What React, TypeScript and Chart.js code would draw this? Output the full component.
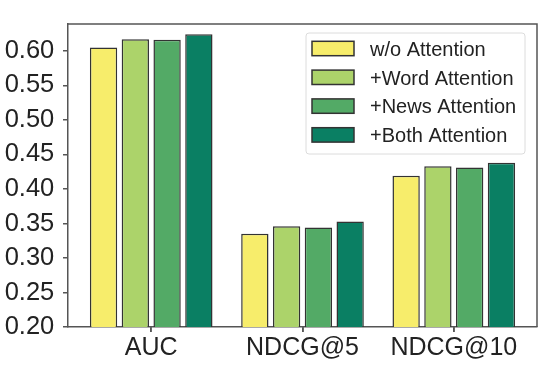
import React, { useEffect, useRef } from "react";
import { Chart, registerables } from "chart.js";

Chart.register(...registerables);

const categories = ["AUC", "NDCG@5", "NDCG@10"];
const seriesLabels = ["w/o Attention", "+Word Attention", "+News Attention", "+Both Attention"];
const woAttention = [0.605, 0.335, 0.419];
const wordAttention = [0.617, 0.346, 0.433];
const newsAttention = [0.616, 0.344, 0.431];
const bothAttention = [0.624, 0.353, 0.438];
const seriesColors = ["#f7ed6b", "#acd36a", "#53aa66", "#0a7f63"];
const yTicks = [0.2, 0.25, 0.3, 0.35, 0.4, 0.45, 0.5, 0.55, 0.6];

const FONT = "'Liberation Sans', Arial, sans-serif";
const AXIS = "#555555";
const TEXT = "#222222";

const legendPlugin = {
  id: "insideLegend",
  afterDraw(chart: any) {
    const ctx = chart.ctx;
    const area = chart.chartArea;
    ctx.save();
    // top & right spines
    ctx.strokeStyle = AXIS;
    ctx.lineWidth = 1.5;
    ctx.beginPath();
    ctx.moveTo(area.left, area.top);
    ctx.lineTo(area.right, area.top);
    ctx.lineTo(area.right, area.bottom);
    ctx.stroke();

    // x tick marks at category centres
    const xs = chart.scales.x;
    ctx.strokeStyle = AXIS;
    ctx.lineWidth = 1.5;
    ctx.beginPath();
    for (let i = 0; i < categories.length; i++) {
      const px = Math.round(xs.getPixelForValue(i));
      ctx.moveTo(px, area.bottom);
      ctx.lineTo(px, area.bottom + 5);
    }
    ctx.stroke();

    // legend frame
    const fx = 306, fy = 33, fw = 219, fh = 121, r = 3;
    ctx.beginPath();
    ctx.moveTo(fx + r, fy);
    ctx.lineTo(fx + fw - r, fy);
    ctx.quadraticCurveTo(fx + fw, fy, fx + fw, fy + r);
    ctx.lineTo(fx + fw, fy + fh - r);
    ctx.quadraticCurveTo(fx + fw, fy + fh, fx + fw - r, fy + fh);
    ctx.lineTo(fx + r, fy + fh);
    ctx.quadraticCurveTo(fx, fy + fh, fx, fy + fh - r);
    ctx.lineTo(fx, fy + r);
    ctx.quadraticCurveTo(fx, fy, fx + r, fy);
    ctx.closePath();
    ctx.fillStyle = "rgba(255,255,255,0.8)";
    ctx.fill();
    ctx.strokeStyle = "#dcdcdc";
    ctx.lineWidth = 1;
    ctx.stroke();

    ctx.font = `20px ${FONT}`;
    ctx.textBaseline = "alphabetic";
    ctx.textAlign = "left";
    chart.data.datasets.forEach((ds: any, i: number) => {
      const cy = 48.5 + i * 28.8;
      ctx.fillStyle = ds.backgroundColor;
      ctx.fillRect(312, cy - 7.2, 42, 14.4);
      ctx.strokeStyle = "#333333";
      ctx.lineWidth = 1.5;
      ctx.strokeRect(312, cy - 7.2, 42, 14.4);
      ctx.fillStyle = TEXT;
      ctx.fillText(ds.label, 370, cy + 7.3);
    });
    ctx.restore();
  },
};

export default function App() {
  const ref = useRef<HTMLCanvasElement>(null);

  useEffect(() => {
    const seriesValues = [woAttention, wordAttention, newsAttention, bothAttention];
    const chart = new Chart(ref.current!, {
      type: "bar",
      data: {
        datasets: seriesValues.map((vals, s) => ({
          label: seriesLabels[s],
          data: vals.map((v, i) => ({ x: i, y: v })),
          backgroundColor: seriesColors[s],
          borderColor: "#333333",
          borderWidth: 1.5,
          borderSkipped: "start",
          categoryPercentage: 0.84,
          barPercentage: 0.86,
        })),
      },
      options: {
        responsive: false,
        animation: false,
        devicePixelRatio: 1,
        layout: { padding: { top: 23, right: 3, left: 0, bottom: 0 } },
        plugins: { legend: { display: false }, tooltip: { enabled: false } },
        scales: {
          x: {
            type: "linear",
            min: -0.55,
            max: 2.55,
            offset: false,
            afterBuildTicks: (s: any) => {
              s.ticks = categories.map((_, i) => ({ value: i }));
            },
            afterFit: (s: any) => {
              s.height = 55;
            },
            ticks: {
              autoSkip: false,
              maxRotation: 0,
              padding: 1,
              color: TEXT,
              font: { size: 25, family: FONT },
              callback: (v: any) => categories[v] ?? "",
            },
            grid: {
              display: true,
              offset: false,
              drawOnChartArea: false,
              drawTicks: true,
              tickLength: 5,
              color: AXIS,
              lineWidth: 1.5,
            },
            border: { display: true, color: AXIS, width: 1.5 },
          },
          y: {
            type: "linear",
            min: 0.2,
            max: 0.639,
            afterBuildTicks: (s: any) => {
              s.ticks = yTicks.map((v) => ({ value: v }));
            },
            afterFit: (s: any) => {
              s.width = 68;
            },
            ticks: {
              padding: 8.7,
              color: TEXT,
              font: { size: 25.5, family: FONT },
              callback: (v: any) => Number(v).toFixed(2),
            },
            grid: {
              display: true,
              drawOnChartArea: false,
              drawTicks: true,
              tickLength: 5,
              color: AXIS,
              lineWidth: 1.5,
            },
            border: { display: true, color: AXIS, width: 1.5 },
          },
        },
      } as any,
      plugins: [legendPlugin],
    });
    return () => chart.destroy();
  }, []);

  return (
    <div style={{ position: "absolute", left: 0, top: 0, width: 540, height: 382, background: "#fff" }}>
      <canvas ref={ref} width={540} height={382} style={{ display: "block" }} />
    </div>
  );
}
